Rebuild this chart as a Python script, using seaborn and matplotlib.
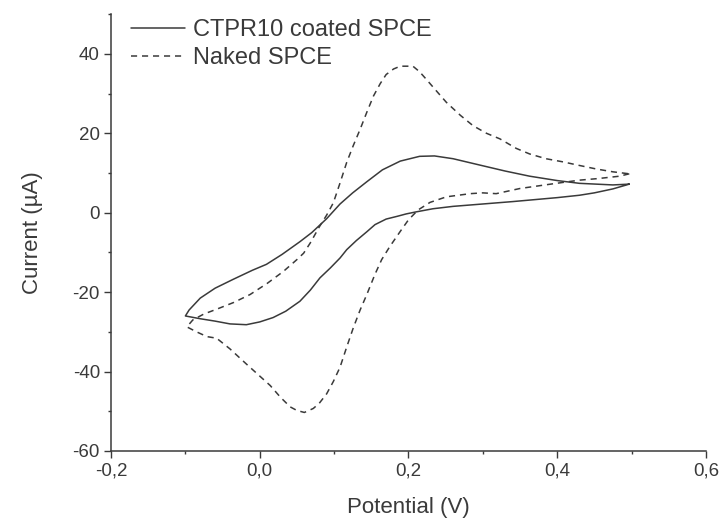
import pandas as pd
import seaborn as sns
import matplotlib.pyplot as plt
import matplotlib.ticker as ticker

# CTPR10 coated SPCE: cathodic sweep 0.5 -> -0.1, then anodic sweep back to 0.5
coated_x = [0.497, 0.475, 0.45, 0.43, 0.40, 0.34, 0.30, 0.26, 0.233, 0.21, 0.197, 0.185,
            0.17, 0.155, 0.144, 0.13, 0.117, 0.108, 0.095, 0.081, 0.068, 0.054, 0.035,
            0.018, 0.0, -0.018, -0.04, -0.06, -0.08, -0.1,
            -0.095, -0.08, -0.06, -0.036, -0.01, 0.009, 0.03, 0.054, 0.07, 0.09, 0.108,
            0.125, 0.144, 0.165, 0.189, 0.215, 0.235, 0.26, 0.296, 0.33, 0.363, 0.40,
            0.43, 0.475, 0.497]
coated_y = [7.2, 6.0, 5.0, 4.4, 3.8, 2.8, 2.2, 1.6, 1.0, 0.2, -0.3, -0.9,
            -1.6, -3.0, -4.8, -7.0, -9.3, -11.4, -13.9, -16.4, -19.5, -22.3, -24.8,
            -26.4, -27.5, -28.2, -28.0, -27.3, -26.7, -26.0,
            -24.5, -21.5, -19.0, -16.8, -14.5, -13.0, -10.5, -7.3, -5.0, -1.5, 2.2,
            5.0, 7.8, 10.8, 13.0, 14.2, 14.3, 13.6, 12.0, 10.5, 9.2, 8.1,
            7.4, 7.0, 7.2]

# Naked SPCE
naked_x = [0.497, 0.484, 0.455, 0.43, 0.395, 0.35, 0.318, 0.30, 0.283, 0.251, 0.229,
           0.213, 0.20, 0.189, 0.175, 0.164, 0.155, 0.144, 0.135, 0.126, 0.117, 0.108,
           0.099, 0.09, 0.08, 0.072, 0.06, 0.05, 0.041, 0.028, 0.014, -0.002, -0.018,
           -0.04, -0.058, -0.071, -0.085, -0.098,
           -0.09, -0.075, -0.058, -0.035, -0.013, 0.01, 0.032, 0.05, 0.059, 0.068,
           0.08, 0.09, 0.099, 0.108, 0.117, 0.126, 0.135, 0.144, 0.153, 0.162, 0.17,
           0.18, 0.189, 0.206, 0.215, 0.224, 0.237, 0.251, 0.27, 0.287, 0.305, 0.323,
           0.345, 0.363, 0.385, 0.408, 0.43, 0.453, 0.475, 0.497]
naked_y = [9.8, 9.2, 8.6, 8.2, 7.3, 6.1, 4.8, 5.0, 4.8, 4.0, 2.6,
           0.7, -1.8, -4.7, -8.5, -11.8, -15.5, -20.6, -24.5, -28.9, -33.8, -38.9,
           -42.5, -45.6, -48.0, -49.3, -50.3, -49.8, -48.9, -46.5, -43.5, -40.8, -38.1,
           -34.3, -31.6, -31.2, -30.0, -28.75,
           -27.0, -25.5, -24.3, -22.6, -20.6, -17.8, -14.75, -11.8, -10.2, -7.6,
           -3.6, -0.6, 2.5, 7.5, 12.7, 17.0, 21.0, 25.3, 29.4, 32.5, 34.8,
           36.2, 36.9, 36.9, 35.5, 33.6, 30.8, 27.8, 24.5, 21.9, 20.0, 18.6,
           16.2, 14.8, 13.6, 12.8, 11.9, 11.0, 10.3, 9.8]

series = ['CTPR10 coated SPCE', 'Naked SPCE']

df = pd.concat([
    pd.DataFrame({'Potential': coated_x, 'Current': coated_y, 'Electrode': series[0]}),
    pd.DataFrame({'Potential': naked_x, 'Current': naked_y, 'Electrode': series[1]}),
], ignore_index=True)

sns.set_style('ticks')
plt.rcParams['font.family'] = ['Liberation Sans', 'DejaVu Sans']
ink = '#3a3a3a'
plt.rcParams['text.color'] = ink
plt.rcParams['axes.labelcolor'] = ink
plt.rcParams['xtick.color'] = ink
plt.rcParams['ytick.color'] = ink

fig = plt.figure(figsize=(7.21, 5.25), dpi=100)
ax = fig.add_axes([0.154, 0.141, 0.825, 0.832])

sns.lineplot(data=df, x='Potential', y='Current', style='Electrode', style_order=series,
             dashes={series[0]: '', series[1]: (4, 3.2)}, sort=False, estimator=None,
             color=ink, linewidth=1.1, legend=False, ax=ax)

ax.set_xlim(-0.2, 0.6)
ax.set_ylim(-60, 50)
ax.set_xticks([-0.2, 0.0, 0.2, 0.4, 0.6])
ax.set_yticks([-60, -40, -20, 0, 20, 40])
ax.xaxis.set_minor_locator(ticker.MultipleLocator(0.1))
ax.yaxis.set_minor_locator(ticker.MultipleLocator(10))
ax.xaxis.set_major_formatter(ticker.FuncFormatter(lambda v, p: f'{v:.1f}'.replace('.', ',')))
ax.yaxis.set_major_formatter(ticker.FuncFormatter(lambda v, p: f'{v:.0f}'))
ax.tick_params(which='major', direction='out', length=5, width=1, labelsize=13.5, pad=3)
ax.tick_params(which='minor', direction='out', length=2.5, width=1)

sns.despine(ax=ax)
for s in ['left', 'bottom']:
    ax.spines[s].set_color(ink)
    ax.spines[s].set_linewidth(1.1)

ax.set_xlabel('Potential (V)', fontsize=16, labelpad=13)
ax.set_ylabel('Current (µA)', fontsize=16, labelpad=21)

ax.legend(handles=ax.lines[:2], labels=series, loc='upper left', frameon=False,
          fontsize=17, handlelength=2.3, handletextpad=0.3, labelspacing=0.25,
          borderaxespad=0.0, bbox_to_anchor=(0.018, 1.01))

fig.savefig('out.png', dpi=100)
